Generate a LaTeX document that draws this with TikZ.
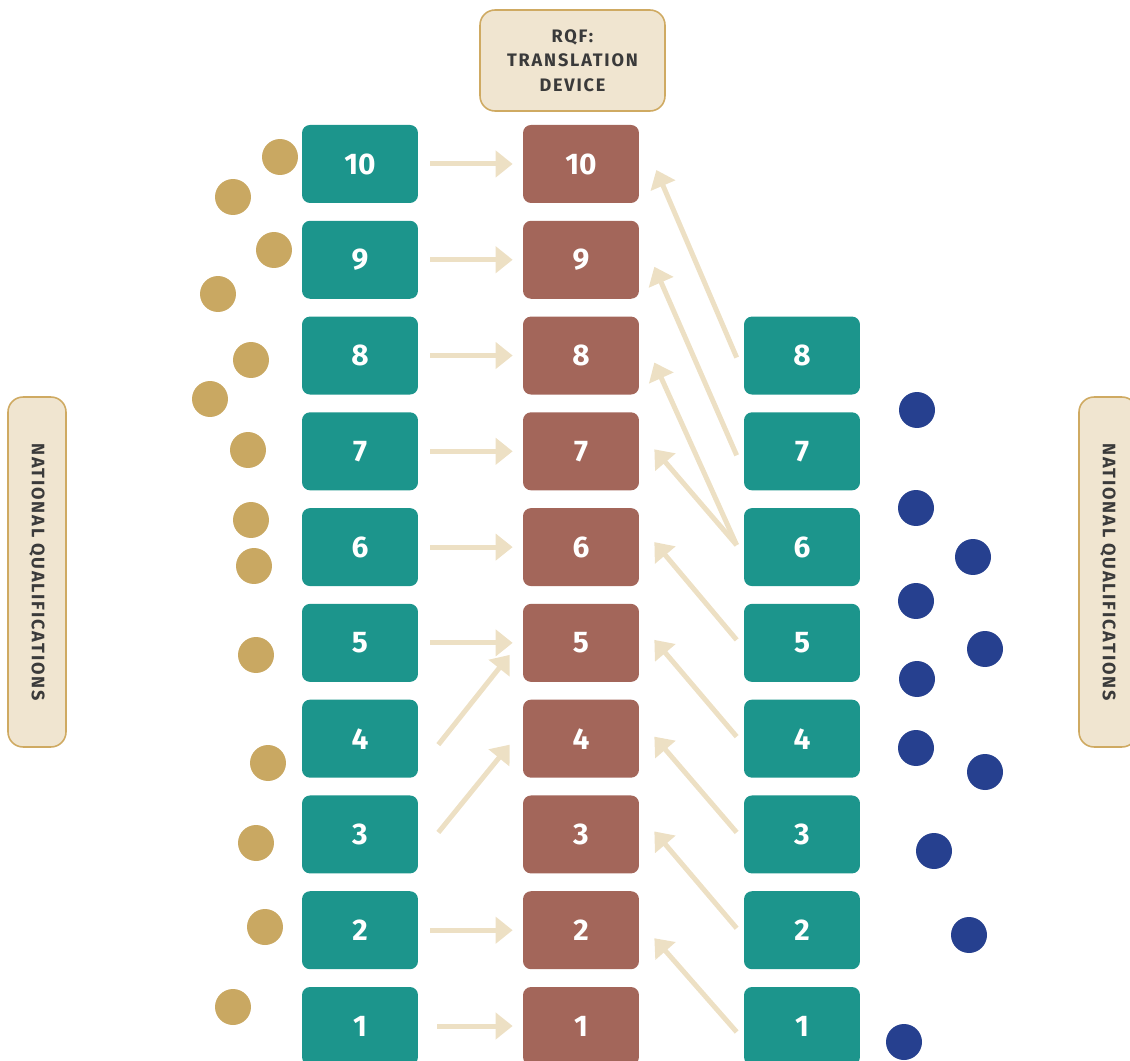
\documentclass[tikz,border=0pt]{standalone}
\usepackage{fontspec}
\setmainfont{Fira Sans}
\newfontfamily\capsfont[LetterSpace=10]{Fira Sans}
\usetikzlibrary{calc,arrows.meta}

\definecolor{nqteal}{HTML}{1C958C}
\definecolor{rqfred}{HTML}{A3665A}
\definecolor{golddot}{HTML}{C9A862}
\definecolor{bluedot}{HTML}{26408F}
\definecolor{sandfill}{HTML}{F0E5D0}
\definecolor{sanddraw}{HTML}{CFAA62}
\definecolor{arrowsand}{HTML}{EDE0C4}
\definecolor{labeltext}{HTML}{3A3A3A}

\tikzset{
  levelbox/.style={rounded corners=0.16cm, minimum width=2.32cm, minimum height=1.56cm,
    text=white, font=\bfseries\fontsize{17}{17}\selectfont},
  nqbox/.style={levelbox, fill=nqteal},
  rqfbox/.style={levelbox, fill=rqfred},
  tagbox/.style={draw=sanddraw, fill=sandfill, line width=0.9pt, rounded corners=0.3cm,
    text=labeltext, font=\capsfont\bfseries\fontsize{10.3}{14}\selectfont, align=center},
  link/.style={draw=arrowsand, line width=0.1cm, -{Triangle[length=0.34cm,width=0.52cm]}},
  flow/.style={link, shorten <=0.24cm, shorten >=0.2cm}
}

\begin{document}
\begin{tikzpicture}[x=0.02cm,y=-0.02cm]
    \useasboundingbox (0,0) rectangle (1130,1061);
    % level boxes
    \foreach \i in {1,...,10} {
      \node[nqbox] (l\i) at (360,{1026-(\i-1)*95.78}) {\i};
      \node[rqfbox] (m\i) at (581,{1026-(\i-1)*95.78}) {\i};
    }
    \foreach \i in {1,...,8}
      \node[nqbox] (r\i) at (802,{1026-(\i-1)*95.78}) {\i};
    % labels
    \node[tagbox, minimum width=3.7cm, minimum height=2.02cm] (rqf) at (572.5,60.5) {RQF:\\TRANSLATION\\DEVICE};
    \node[tagbox, rotate=-90, minimum width=7cm, minimum height=1.16cm] (nqleft) at (37,572) {NATIONAL QUALIFICATIONS};
    \node[tagbox, rotate=-90, minimum width=7cm, minimum height=1.16cm] (nqright) at (1108,572) {NATIONAL QUALIFICATIONS};
    % dots
    \foreach \p in {(280,157),(233,197),(274,250),(218,294),(251,360),(210,399),(248,450),
                    (251,520),(254,566),(256,655),(268,763),(256,843),(265,927),(233,1007)}
      \fill[golddot] \p circle (0.36cm);
    \foreach \p in {(917,410),(916,508),(973,557),(916,601),(985,649),(917,679),
                    (916,748),(985,772),(934,851),(969,935),(904,1042)}
      \fill[bluedot] \p circle (0.36cm);
    % left to middle
    \foreach \i in {2,5,6,7,8,9,10}
      \draw[flow] (l\i) -- (m\i);
    \draw[flow, shorten <=0.38cm] (l1) -- (m1);
    \draw[link] ($(l4.east)+(20,6)$) -- ($(m5.west)+(-13,12)$);
    \draw[link] ($(l3.east)+(20,-2)$) -- ($(m4.west)+(-13,6)$);
    % right to middle
    \draw[link] ($(r8.west)+(-7,2)$) -- ($(m10.east)+(17,6)$);
    \draw[link] ($(r7.west)+(-7,4)$) -- ($(m9.east)+(15,7)$);
    \draw[link] ($(r6.west)+(-7,-2)$) -- ($(m8.east)+(15,7)$);
    \draw[link] ($(r6.west)+(-7,-2)$) -- ($(m7.east)+(15,-2)$);
    \draw[link] ($(r5.west)+(-7,-3)$) -- ($(m6.east)+(15,-5)$);
    \draw[link] ($(r4.west)+(-7,-2)$) -- ($(m5.east)+(15,-3)$);
    \draw[link] ($(r3.west)+(-7,-2)$) -- ($(m4.east)+(15,-2)$);
    \draw[link] ($(r2.west)+(-7,-2)$) -- ($(m3.east)+(15,-3)$);
    \draw[link] ($(r1.west)+(-7,6)$) -- ($(m2.east)+(15,8)$);
\end{tikzpicture}
\end{document}
